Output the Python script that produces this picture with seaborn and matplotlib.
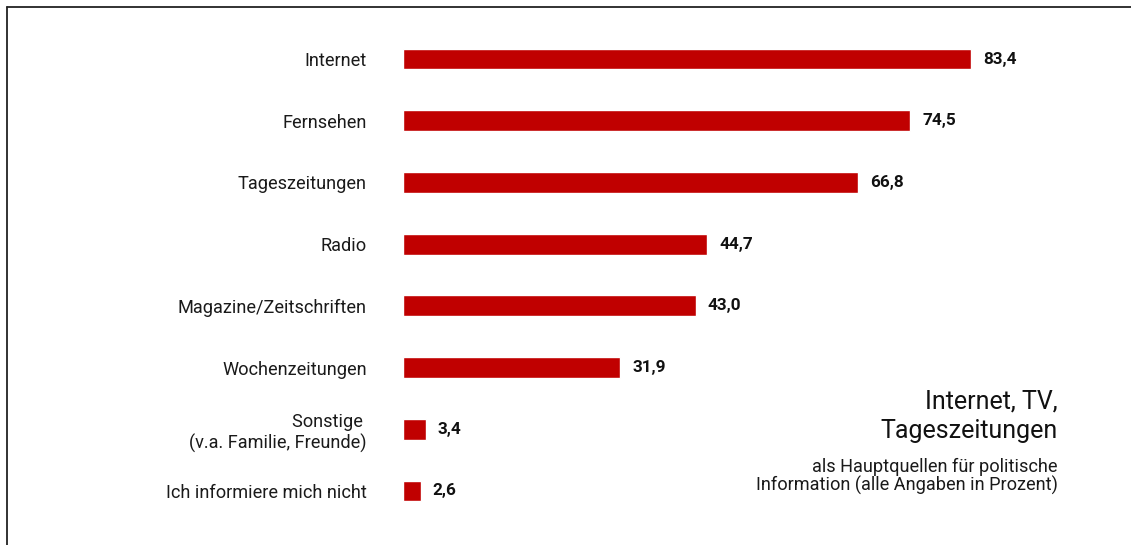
import matplotlib
matplotlib.use("Agg")
import matplotlib.pyplot as plt
from matplotlib import font_manager as fm
from matplotlib.lines import Line2D
import seaborn as sns
import pandas as pd

# Data
categories = [
    "Internet",
    "Fernsehen",
    "Tageszeitungen",
    "Radio",
    "Magazine/Zeitschriften",
    "Wochenzeitungen",
    "Sonstige \n(v.a. Familie, Freunde)",
    "Ich informiere mich nicht",
]
values = [83.4, 74.5, 66.8, 44.7, 43.0, 31.9, 3.4, 2.6]
value_labels = ["83,4", "74,5", "66,8", "44,7", "43,0", "31,9", "3,4", "2,6"]

title_lines = ["Internet, TV,", "Tageszeitungen"]
subtitle_lines = ["als Hauptquellen für politische",
                  "Information (alle Angaben in Prozent)"]

BAR_COLOR = "#c00000"
W, H = 1131, 545

sns.set_theme(style="white")
available = {f.name for f in fm.fontManager.ttflist}
if "Liberation Sans Narrow" in available:
    FAMILY = ["Liberation Sans Narrow", "DejaVu Sans"]
    LABEL_SIZE, VALUE_SIZE, TITLE_SIZE = 14.5, 14.5, 21
else:
    FAMILY = ["Roboto", "DejaVu Sans"]
    LABEL_SIZE, VALUE_SIZE, TITLE_SIZE = 13.1, 12.3, 18.0
plt.rcParams["font.family"] = FAMILY

fig = plt.figure(figsize=(W / 100, H / 100), dpi=100)

# Axes placed in pixel terms: bars start at x=403, rows centred 59..491 px
row_step = (491 - 59) / 7
top_px = 59 - row_step / 2
bot_px = 491 + row_step / 2
px_per_unit = (971 - 403) / 83.4
ax_left = 403 / W
ax_width = (W - 403) / W
ax = fig.add_axes([ax_left, 1 - bot_px / H, ax_width, (bot_px - top_px) / H])

df = pd.DataFrame({"Quelle": categories, "Anteil": values})
sns.barplot(data=df, x="Anteil", y="Quelle", orient="h", color=BAR_COLOR,
            width=0.34, saturation=1, ax=ax)

ax.set_xlim(0, (W - 403) / px_per_unit)
ax.set_ylim(len(categories) - 0.5, -0.5)
ax.set_xlabel("")
ax.set_ylabel("")
ax.xaxis.set_visible(False)
for s in ax.spines.values():
    s.set_visible(False)
ax.tick_params(axis="y", length=0, pad=26)
for lbl in ax.get_yticklabels():
    lbl.set_fontsize(LABEL_SIZE)
    lbl.set_color("#1a1a1a")
    lbl.set_family(FAMILY)

ax.bar_label(ax.containers[0], labels=value_labels, padding=8.5,
             fontsize=VALUE_SIZE, fontweight="bold", color="#111111",
             family=FAMILY)

# Frame lines on the left and top
fig.add_artist(Line2D([7 / W, 7 / W], [0, 1 - 7 / H], color="#222222",
                      lw=1.3, transform=fig.transFigure))
fig.add_artist(Line2D([7 / W, 1], [1 - 7 / H, 1 - 7 / H], color="#222222",
                      lw=1.3, transform=fig.transFigure))

# Headline block at the lower right
right_x = 1058 / W
for txt, base in zip(title_lines, [409, 438]):
    fig.text(right_x, 1 - base / H, txt, ha="right", va="baseline",
             fontsize=TITLE_SIZE, color="#111111", family=FAMILY)
for txt, base in zip(subtitle_lines, [472, 491]):
    fig.text(right_x, 1 - base / H, txt, ha="right", va="baseline",
             fontsize=LABEL_SIZE, color="#1a1a1a", family=FAMILY)

fig.savefig("out.png", dpi=100)
